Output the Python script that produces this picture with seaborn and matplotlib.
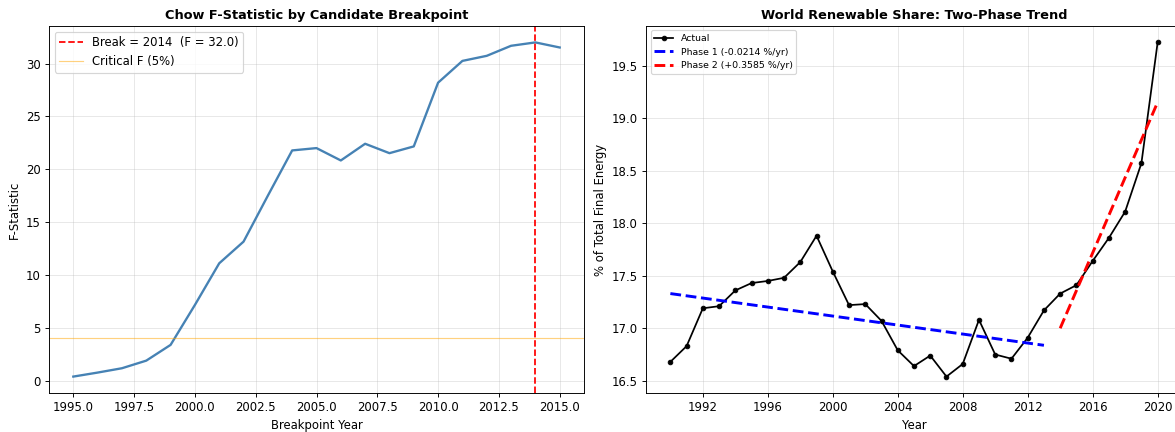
import numpy as np
import pandas as pd
import matplotlib
matplotlib.use("Agg")
import matplotlib.pyplot as plt
import seaborn as sns

# Chow test: F-statistic for each candidate breakpoint year
break_years = [1995, 1996, 1997, 1998, 1999, 2000, 2001, 2002, 2003, 2004,
               2005, 2006, 2007, 2008, 2009, 2010, 2011, 2012, 2013, 2014, 2015]
f_stats = [0.38, 0.76, 1.17, 1.89, 3.38, 7.16, 11.1, 13.15, 17.5, 21.78,
           22.0, 20.83, 22.41, 21.52, 22.16, 28.19, 30.25, 30.73, 31.68, 32.0, 31.52]
critical_f = 4.0
best_break = 2014
best_f = 32.0

# World renewable share of total final energy consumption (%)
years = list(range(1990, 2021))
share = [16.68, 16.83, 17.19, 17.21, 17.36, 17.43, 17.45, 17.48, 17.63, 17.88,
         17.54, 17.22, 17.23, 17.07, 16.79, 16.64, 16.74, 16.54, 16.66, 17.08,
         16.75, 16.71, 16.91, 17.17, 17.33, 17.41, 17.64, 17.86, 18.11, 18.57, 19.72]

# Fitted linear trends for each phase (start year, end year, value at start, slope)
phase1 = (1990, 2013, 17.33, -0.0214)
phase2 = (2014, 2020, 17.00, 0.3585)

DPI = 83.93
fig = plt.figure(figsize=(1175 / DPI, 432 / DPI), dpi=DPI)
W, H = 1175, 432
ax1 = fig.add_axes([49 / W, 1 - 393.3 / H, 535 / W, 367.6 / H])
ax2 = fig.add_axes([646 / W, 1 - 393.3 / H, 536 / W, 367.6 / H])

# Left panel: F-statistic curve
df_f = pd.DataFrame({"year": break_years, "F": f_stats})
sns.lineplot(data=df_f, x="year", y="F", ax=ax1, color="steelblue", linewidth=2)
ax1.axvline(best_break, color="red", linestyle="--", linewidth=1.5,
            label=f"Break = {best_break}  (F = {best_f:.1f})")
ax1.axhline(critical_f, color="orange", linestyle="-", linewidth=1, alpha=0.5,
            label="Critical F (5%)")
ax1.set_title("Chow F-Statistic by Candidate Breakpoint", fontweight="bold", fontsize=11)
ax1.set_xlabel("Breakpoint Year")
ax1.set_ylabel("F-Statistic")
ax1.grid(alpha=0.3)
ax1.legend(loc="upper left", fontsize=10)

# Right panel: actual series with the two fitted phases
df_s = pd.DataFrame({"year": years, "share": share})
sns.lineplot(data=df_s, x="year", y="share", ax=ax2, color="black", linewidth=1.5,
             marker="o", markersize=4, markeredgecolor="black", label="Actual")

for (y0, y1, v0, slope), color, name in [(phase1, "blue", "Phase 1"),
                                          (phase2, "red", "Phase 2")]:
    xs = np.array([y0, y1])
    trend = pd.DataFrame({"year": xs, "fit": v0 + slope * (xs - y0)})
    sns.lineplot(data=trend, x="year", y="fit", ax=ax2, color=color,
                 linestyle="--", linewidth=2.5,
                 label=f"{name} ({slope:+.4f} %/yr)")

ax2.set_title("World Renewable Share: Two-Phase Trend", fontweight="bold", fontsize=11)
ax2.set_xlabel("Year")
ax2.set_ylabel("% of Total Final Energy")
ax2.set_xticks([1992, 1996, 2000, 2004, 2008, 2012, 2016, 2020])
ax2.grid(alpha=0.3)
ax2.legend(loc="upper left", fontsize=8)

fig.savefig("out.png", dpi=DPI)
